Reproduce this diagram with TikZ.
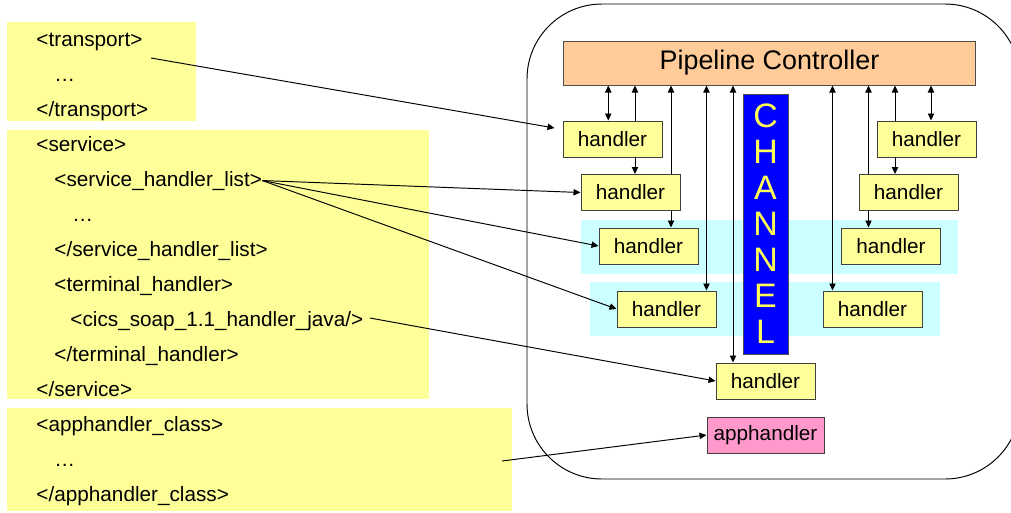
\documentclass[tikz,border=0pt]{standalone}
\usepackage{fontspec}
\setmainfont{Liberation Sans}
\usetikzlibrary{arrows.meta}
\definecolor{hyellow}{HTML}{FFFF99}
\definecolor{bandcyan}{HTML}{CCFFFF}
\definecolor{ctrlorange}{HTML}{FFCC99}
\definecolor{apppink}{HTML}{FF99CC}
\definecolor{chanblue}{HTML}{0000FF}
\definecolor{chantext}{HTML}{FFFF55}
\tikzset{
  handler/.style={draw=black!75, fill=hyellow, minimum width=1.98cm, minimum height=0.72cm, inner sep=0pt, font=\fontsize{11.8}{14}\selectfont},
  code/.style={anchor=base west, inner sep=0pt, font=\fontsize{11.8}{14}\selectfont}
}
\begin{document}
\begin{tikzpicture}[x=0.02cm,y=-0.02cm,>={Triangle[length=4pt,width=3.6pt]},line width=0.55pt]
    \clip (0,0) rectangle (1011,512);
    \fill[hyellow] (7,22) rectangle (196,121);
    \fill[hyellow] (7,130) rectangle (429,399);
    \fill[hyellow] (7,408) rectangle (512,511);
    \node (t1) [code] at (36,46) {<transport>};
    \node (t2) [code] at (54,81) {…};
    \node (t3) [code] at (36,116) {</transport>};
    \node (t4) [code] at (36,151) {<service>};
    \node (t5) [code] at (54,186) {<service\_handler\_list>};
    \node (t6) [code] at (72,221) {…};
    \node (t7) [code] at (54,256) {</service\_handler\_list>};
    \node (t8) [code] at (54,291) {<terminal\_handler>};
    \node (t9) [code] at (70,326) {<cics\_soap\_1.1\_handler\_java/>};
    \node (t10) [code] at (54,361) {</terminal\_handler>};
    \node (t11) [code] at (36,396) {</service>};
    \node (t12) [code] at (36,431) {<apphandler\_class>};
    \node (t13) [code] at (54,466) {…};
    \node (t14) [code] at (36,501) {</apphandler\_class>};
    \coordinate (tpx) at (151,58);
    \coordinate (csx) at (370,318);
    \coordinate (apx) at (502,461);
    \draw[rounded corners=1.5cm] (527,4) rectangle (1020,479);
    \fill[bandcyan] (581,220) rectangle (958,274);
    \fill[bandcyan] (590,282) rectangle (940,336);
    \node (pc) [draw=black!70, fill=ctrlorange, minimum width=8.26cm, minimum height=0.88cm, inner sep=0pt, font=\fontsize{15.3}{18}\selectfont] at (769.5,63) {Pipeline Controller};
    \node (ch) [draw=black!70, fill=chanblue, text=chantext, minimum width=0.9cm, minimum height=5.2cm, inner sep=0pt, align=center, font=\fontsize{19.3}{20.5}\selectfont] at (765.5,224) {C\\H\\A\\N\\N\\E\\L};
    \node (a1) [handler] at (612.5,139) {handler};
    \node (a2) [handler] at (630.5,192.5) {handler};
    \node (a3) [handler] at (648.5,246) {handler};
    \node (a4) [handler] at (666.5,309) {handler};
    \node (tm) [handler] at (765.5,381) {handler};
    \node (ap) [handler, fill=apppink, minimum width=2.34cm] at (765.5,435) {apphandler};
    \node (b1) [handler] at (926.5,139) {handler};
    \node (b2) [handler] at (908.5,192.5) {handler};
    \node (b3) [handler] at (891,246) {handler};
    \node (b4) [handler] at (872.5,309) {handler};
    \foreach \n/\s in {a1/-0.085, a4/0.8, tm/-0.65, b4/-0.8, b1/0.09}
    \draw[<->] ([xshift=\s cm]\n.north) -- ([xshift=\s cm]\n.north |- pc.south);
    \foreach \n/\s in {a1/0.45, a2/0.81, b2/-0.8, b1/-0.63}
    \draw[->] ([xshift=\s cm]\n.north) -- ([xshift=\s cm]\n.north |- pc.south);
    \foreach \n/\m/\s in {a1/a2/0.45, a2/a3/0.81, b1/b2/-0.63, b2/b3/-0.8}
    \draw[->] ([xshift=\s cm]\n.south) -- ([xshift=\s cm]\n.south |- \m.north);
    \draw[->] (tpx) -- ([xshift=-0.16cm,yshift=0.22cm]a1.west);
    \draw[->] (t5.east) -- (a2.west);
    \draw[->] (t5.east) -- (a3.west);
    \draw[->] (t5.east) -- (a4.west);
    \draw[->] (csx) -- (tm.west);
    \draw[->] (apx) -- (ap.west);
\end{tikzpicture}
\end{document}
